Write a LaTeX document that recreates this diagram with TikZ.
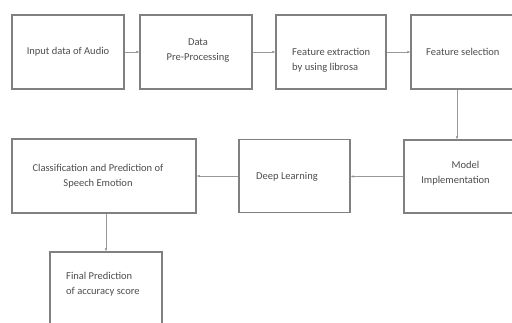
\documentclass[tikz,border=0pt]{standalone}
\usepackage{fontspec}
\setmainfont{Carlito}
\usetikzlibrary{arrows.meta}
\begin{document}
\begin{tikzpicture}[x=1pt,y=-1pt,
  box/.style={draw=black!50, line width=1.2pt, rectangle, inner sep=0pt},
  lbl/.style={text=black!70, inner sep=0pt, font=\fontsize{10.5}{15}\selectfont},
  conn/.style={draw=black!40, line width=0.6pt, -{Latex[length=3pt,width=2.6pt,fill=black!75]}}]
\useasboundingbox (0,0) rectangle (512,323);
\clip (0,0) rectangle (512,323);
% boxes
\node[box, minimum width=112pt, minimum height=74pt] (b1) at (68,52) {};
\node[box, minimum width=112pt, minimum height=74pt] (b2) at (196,52) {};
\node[box, minimum width=110pt, minimum height=74pt] (b3) at (331,52) {};
\node[box, minimum width=110pt, minimum height=74pt] (b4) at (466,52) {};
\node[box, minimum width=118pt, minimum height=73pt] (b5) at (463,176.5) {};
\node[box, minimum width=111pt, minimum height=73pt] (b6) at (294.5,176) {};
\node[box, minimum width=184pt, minimum height=74pt] (b7) at (104,176) {};
\node[box, minimum width=112pt, minimum height=80pt] (b8) at (106,292) {};
% texts
\node[lbl] (t1) at (68,52) {Input data of Audio};
\node[lbl, align=center] (t2) at (198,51) {Data\\Pre-Processing};
\node[lbl, align=left, anchor=west] (t3) at (292,60.5) {Feature extraction\\by using librosa};
\node[lbl, anchor=west] (t4) at (426,52) {Feature selection};
\node[lbl, align=center] (t5) at (455.5,173) {\hspace*{20pt}Model\\Implementation};
\node[lbl, anchor=west] (t6) at (256,177) {Deep Learning};
\node[lbl, align=center] (t7) at (98,176.5) {Classification and Prediction of\\Speech Emotion};
\node[lbl, align=left, anchor=west] (t8) at (66,284) {Final Prediction\\of accuracy score};
% connectors
\draw[conn] (b1.east) -- (b2.west);
\draw[conn] (b2.east) -- (b3.west);
\draw[conn] (b3.east) -- (b4.west);
\draw[conn] ([xshift=-9pt]b4.south) -- ([xshift=-9pt]b4.south |- b5.north);
\draw[conn] (b5.west) -- (b5.west -| b6.east);
\draw[conn] (b6.west) -- (b6.west -| b7.east);
\draw[conn] (b8.north |- b7.south) -- (b8.north);
\end{tikzpicture}
\end{document}
